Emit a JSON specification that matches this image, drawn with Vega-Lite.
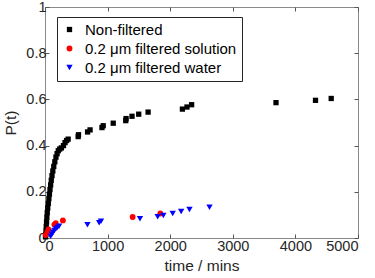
{
  "$schema": "https://vega.github.io/schema/vega-lite/v6.json",
  "width": 313,
  "height": 231,
  "autosize": {"type": "none"},
  "padding": {"left": 45, "top": 7, "right": 17, "bottom": 40},
  "config": {
    "font": "Liberation Sans",
    "view": {"stroke": "#8a8a8a", "strokeWidth": 1},
    "axis": {
      "grid": false,
      "domain": false,
      "tickColor": "#555555",
      "tickSize": -4,
      "labelColor": "#262626",
      "labelFontSize": 14.5,
      "titleColor": "#262626",
      "titleFontSize": 15.5,
      "titleFontWeight": "normal",
      "labelFont": "Liberation Sans",
      "titleFont": "Liberation Sans"
    }
  },
  "data": {
    "values": [
      {"t": 8, "p": 0.005, "s": "Non-filtered"},
      {"t": 12, "p": 0.015, "s": "Non-filtered"},
      {"t": 16, "p": 0.03, "s": "Non-filtered"},
      {"t": 20, "p": 0.05, "s": "Non-filtered"},
      {"t": 25, "p": 0.07, "s": "Non-filtered"},
      {"t": 30, "p": 0.09, "s": "Non-filtered"},
      {"t": 36, "p": 0.11, "s": "Non-filtered"},
      {"t": 44, "p": 0.13, "s": "Non-filtered"},
      {"t": 53, "p": 0.15, "s": "Non-filtered"},
      {"t": 62, "p": 0.17, "s": "Non-filtered"},
      {"t": 71, "p": 0.19, "s": "Non-filtered"},
      {"t": 80, "p": 0.21, "s": "Non-filtered"},
      {"t": 90, "p": 0.23, "s": "Non-filtered"},
      {"t": 100, "p": 0.25, "s": "Non-filtered"},
      {"t": 112, "p": 0.27, "s": "Non-filtered"},
      {"t": 125, "p": 0.29, "s": "Non-filtered"},
      {"t": 140, "p": 0.31, "s": "Non-filtered"},
      {"t": 157, "p": 0.33, "s": "Non-filtered"},
      {"t": 175, "p": 0.35, "s": "Non-filtered"},
      {"t": 193, "p": 0.365, "s": "Non-filtered"},
      {"t": 212, "p": 0.378, "s": "Non-filtered"},
      {"t": 235, "p": 0.385, "s": "Non-filtered"},
      {"t": 262, "p": 0.39, "s": "Non-filtered"},
      {"t": 295, "p": 0.4, "s": "Non-filtered"},
      {"t": 320, "p": 0.413, "s": "Non-filtered"},
      {"t": 345, "p": 0.422, "s": "Non-filtered"},
      {"t": 370, "p": 0.428, "s": "Non-filtered"},
      {"t": 530, "p": 0.439, "s": "Non-filtered"},
      {"t": 535, "p": 0.447, "s": "Non-filtered"},
      {"t": 680, "p": 0.459, "s": "Non-filtered"},
      {"t": 720, "p": 0.468, "s": "Non-filtered"},
      {"t": 910, "p": 0.478, "s": "Non-filtered"},
      {"t": 930, "p": 0.486, "s": "Non-filtered"},
      {"t": 1090, "p": 0.497, "s": "Non-filtered"},
      {"t": 1290, "p": 0.508, "s": "Non-filtered"},
      {"t": 1295, "p": 0.517, "s": "Non-filtered"},
      {"t": 1390, "p": 0.527, "s": "Non-filtered"},
      {"t": 1497, "p": 0.536, "s": "Non-filtered"},
      {"t": 1647, "p": 0.545, "s": "Non-filtered"},
      {"t": 2195, "p": 0.558, "s": "Non-filtered"},
      {"t": 2268, "p": 0.567, "s": "Non-filtered"},
      {"t": 2342, "p": 0.577, "s": "Non-filtered"},
      {"t": 3690, "p": 0.586, "s": "Non-filtered"},
      {"t": 4321, "p": 0.596, "s": "Non-filtered"},
      {"t": 4572, "p": 0.604, "s": "Non-filtered"},
      {"t": 10, "p": 0.013, "s": "0.2 μm filtered solution"},
      {"t": 40, "p": 0.025, "s": "0.2 μm filtered solution"},
      {"t": 55, "p": 0.037, "s": "0.2 μm filtered solution"},
      {"t": 150, "p": 0.058, "s": "0.2 μm filtered solution"},
      {"t": 172, "p": 0.064, "s": "0.2 μm filtered solution"},
      {"t": 286, "p": 0.076, "s": "0.2 μm filtered solution"},
      {"t": 1400, "p": 0.091, "s": "0.2 μm filtered solution"},
      {"t": 1842, "p": 0.106, "s": "0.2 μm filtered solution"},
      {"t": 90, "p": 0.007, "s": "0.2 μm filtered water"},
      {"t": 110, "p": 0.016, "s": "0.2 μm filtered water"},
      {"t": 130, "p": 0.025, "s": "0.2 μm filtered water"},
      {"t": 150, "p": 0.032, "s": "0.2 μm filtered water"},
      {"t": 175, "p": 0.04, "s": "0.2 μm filtered water"},
      {"t": 200, "p": 0.045, "s": "0.2 μm filtered water"},
      {"t": 225, "p": 0.051, "s": "0.2 μm filtered water"},
      {"t": 678, "p": 0.057, "s": "0.2 μm filtered water"},
      {"t": 865, "p": 0.066, "s": "0.2 μm filtered water"},
      {"t": 895, "p": 0.073, "s": "0.2 μm filtered water"},
      {"t": 1517, "p": 0.083, "s": "0.2 μm filtered water"},
      {"t": 1800, "p": 0.092, "s": "0.2 μm filtered water"},
      {"t": 1891, "p": 0.097, "s": "0.2 μm filtered water"},
      {"t": 2040, "p": 0.106, "s": "0.2 μm filtered water"},
      {"t": 2175, "p": 0.115, "s": "0.2 μm filtered water"},
      {"t": 2308, "p": 0.123, "s": "0.2 μm filtered water"},
      {"t": 2628, "p": 0.133, "s": "0.2 μm filtered water"}
    ]
  },
  "layer": [
    {
      "mark": {"type": "point", "filled": true, "opacity": 1},
      "encoding": {
        "x": {
          "field": "t", "type": "quantitative",
          "scale": {"domain": [0, 5000], "nice": false, "zero": true},
          "axis": {"values": [0, 1000, 2000, 3000, 4000, 5000], "format": "d", "title": "time / mins", "labelPadding": 5, "titlePadding": 6}
        },
        "y": {
          "field": "p", "type": "quantitative",
          "scale": {"domain": [0, 1], "nice": false},
          "axis": {"values": [0, 0.2, 0.4, 0.6, 0.8, 1], "format": "~g", "title": "P(t)", "labelPadding": 3, "titlePadding": 7}
        },
        "color": {
          "field": "s", "type": "nominal",
          "scale": {"domain": ["Non-filtered", "0.2 μm filtered solution", "0.2 μm filtered water"], "range": ["#000000", "#ff0000", "#0000ff"]},
          "legend": {
            "title": null, "orient": "none", "legendX": 12, "legendY": 10,
            "labelFontSize": 15, "labelColor": "#000000", "labelLimit": 300, "labelOffset": 8,
            "symbolSize": 22,
            "strokeColor": "#262626", "padding": 5, "rowPadding": 3, "fillColor": "#ffffff",
            "symbolOpacity": 1
          }
        },
        "shape": {
          "field": "s", "type": "nominal",
          "scale": {"domain": ["Non-filtered", "0.2 μm filtered solution", "0.2 μm filtered water"], "range": ["square", "circle", "triangle-down"]},
          "legend": null
        },
        "size": {
          "field": "s", "type": "nominal",
          "scale": {"domain": ["Non-filtered", "0.2 μm filtered solution", "0.2 μm filtered water"], "range": [28, 40, 49]},
          "legend": null
        }
      }
    },
    {
      "mark": {"type": "point", "opacity": 0},
      "encoding": {
        "x": {"field": "t", "type": "quantitative", "axis": {"orient": "top", "values": [0, 1000, 2000, 3000, 4000, 5000], "labels": false, "title": null}},
        "y": {"field": "p", "type": "quantitative", "axis": {"orient": "right", "values": [0, 0.2, 0.4, 0.6, 0.8, 1], "labels": false, "title": null}}
      }
    }
  ],
  "resolve": {"axis": {"x": "independent", "y": "independent"}}
}
